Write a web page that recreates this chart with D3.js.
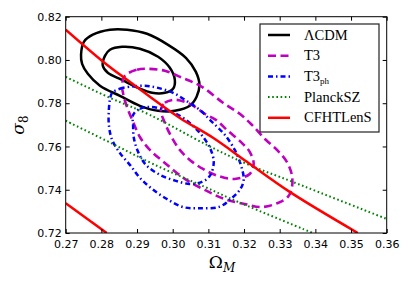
<!DOCTYPE html>
<html lang="en">
<head>
<meta charset="UTF-8">
<script src="https://cdn.jsdelivr.net/npm/d3@7"></script>
<style>
    body { margin: 0; background: white; }
    svg { display: block; }
    .tick text { font-family: "DejaVu Sans", sans-serif; font-size: 11px; }
</style>
</head>
<body>
<script>
    // contours, [Omega_M, sigma_8]
    const lcdm_outer = [[0.2743,0.8024],[0.2751,0.8084],[0.2776,0.8117],[0.2824,0.8140],[0.2872,0.8140],[0.2928,0.8121],[0.2987,0.8070],[0.3037,0.8010],[0.3065,0.7945],[0.3075,0.7885],[0.3067,0.7830],[0.3048,0.7788],[0.3006,0.7765],[0.2959,0.7765],[0.2908,0.7788],[0.2852,0.7834],[0.2796,0.7881],[0.2762,0.7936],[0.2746,0.7982]];
    const lcdm_inner = [[0.2804,0.7973],[0.2810,0.8019],[0.2824,0.8047],[0.2858,0.8061],[0.2908,0.8052],[0.2959,0.8015],[0.2992,0.7964],[0.3006,0.7908],[0.3001,0.7867],[0.2978,0.7848],[0.2942,0.7848],[0.2903,0.7871],[0.2858,0.7908],[0.2818,0.7941]];
    const t3_outer = [[0.2866,0.7927],[0.2900,0.7955],[0.2931,0.7959],[0.2978,0.7950],[0.3026,0.7918],[0.3082,0.7876],[0.3141,0.7802],[0.3188,0.7751],[0.3222,0.7700],[0.3261,0.7631],[0.3295,0.7580],[0.3320,0.7529],[0.3334,0.7469],[0.3334,0.7408],[0.3323,0.7367],[0.3295,0.7339],[0.3250,0.7320],[0.3202,0.7334],[0.3146,0.7357],[0.3090,0.7399],[0.3034,0.7450],[0.2978,0.7524],[0.2936,0.7584],[0.2908,0.7644],[0.2889,0.7714],[0.2875,0.7769],[0.2863,0.7830],[0.2858,0.7885]];
    const t3_inner = [[0.2967,0.7769],[0.2978,0.7802],[0.3006,0.7816],[0.3048,0.7797],[0.3090,0.7751],[0.3121,0.7723],[0.3155,0.7672],[0.3191,0.7621],[0.3216,0.7575],[0.3227,0.7519],[0.3216,0.7473],[0.3174,0.7450],[0.3127,0.7464],[0.3085,0.7496],[0.3048,0.7538],[0.3020,0.7584],[0.2998,0.7640],[0.2978,0.7709]];
    const t3ph_outer = [[0.2830,0.7848],[0.2852,0.7867],[0.2880,0.7876],[0.2922,0.7881],[0.2959,0.7871],[0.3001,0.7848],[0.3043,0.7806],[0.3076,0.7769],[0.3110,0.7714],[0.3146,0.7654],[0.3174,0.7584],[0.3191,0.7515],[0.3199,0.7445],[0.3188,0.7399],[0.3166,0.7362],[0.3132,0.7322],[0.3076,0.7314],[0.3029,0.7320],[0.2984,0.7357],[0.2942,0.7404],[0.2908,0.7455],[0.2880,0.7515],[0.2852,0.7570],[0.2830,0.7631],[0.2821,0.7700],[0.2821,0.7769],[0.2824,0.7816]];
    const t3ph_inner = [[0.2889,0.7746],[0.2908,0.7774],[0.2936,0.7783],[0.2978,0.7769],[0.3020,0.7742],[0.3057,0.7695],[0.3087,0.7640],[0.3107,0.7584],[0.3115,0.7524],[0.3104,0.7464],[0.3082,0.7436],[0.3048,0.7427],[0.3009,0.7441],[0.2964,0.7469],[0.2925,0.7515],[0.2903,0.7575],[0.2891,0.7640],[0.2889,0.7700]];
    const planck_upper = [[0.2700,0.7922],[0.2824,0.7825],[0.2936,0.7746],[0.3096,0.7607],[0.3208,0.7519],[0.3337,0.7436],[0.3600,0.7265]];
    const planck_lower = [[0.2700,0.7719],[0.2832,0.7612],[0.2945,0.7519],[0.3090,0.7413],[0.3183,0.7344],[0.3393,0.7200]];
    const cfht_upper = [[0.2700,0.8140],[0.2805,0.7992],[0.2872,0.7908],[0.2936,0.7830],[0.3020,0.7732],[0.3113,0.7640],[0.3208,0.7529],[0.3328,0.7390],[0.3519,0.7200]];
    const cfht_lower = [[0.2700,0.7338],[0.2815,0.7200]];

    const x_ticks = [0.27, 0.28, 0.29, 0.30, 0.31, 0.32, 0.33, 0.34, 0.35, 0.36];
    const y_ticks = [0.72, 0.74, 0.76, 0.78, 0.80, 0.82];
    const legend_labels = ["ΛCDM", "T3", "T3", "PlanckSZ", "CFHTLenS"];

    const W = 411, H = 288;
    const plot = {left: 65.7, right: 386.7, top: 16.7, bottom: 233};

    const x = d3.scaleLinear().domain([0.27, 0.36]).range([plot.left, plot.right]);
    const y = d3.scaleLinear().domain([0.72, 0.82]).range([plot.bottom, plot.top]);

    const svg = d3.select("body").append("svg")
        .attr("width", W)
        .attr("height", H);

    svg.append("defs").append("clipPath").attr("id", "clip")
        .append("rect")
        .attr("x", plot.left).attr("y", plot.top)
        .attr("width", plot.right - plot.left)
        .attr("height", plot.bottom - plot.top);

    // closed contours and open bands
    const loop = d3.line().x(d => x(d[0])).y(d => y(d[1])).curve(d3.curveCatmullRomClosed.alpha(0.5));
    const open = d3.line().x(d => x(d[0])).y(d => y(d[1])).curve(d3.curveCatmullRom.alpha(0.5));

    const styles = [
        {stroke: "#000000", dash: null, width: 2.5},
        {stroke: "#bf00bf", dash: "8,4.5", width: 2.6},
        {stroke: "#0000ff", dash: "5,3,1.5,3", width: 2.5},
        {stroke: "#008000", dash: "1.6,2.6", width: 2},
        {stroke: "#ff0000", dash: null, width: 2.5}
    ];

    const g = svg.append("g").attr("clip-path", "url(#clip)");
    const series = [
        {data: [lcdm_outer, lcdm_inner], gen: loop, s: styles[0]},
        {data: [t3_outer, t3_inner], gen: loop, s: styles[1]},
        {data: [t3ph_outer, t3ph_inner], gen: loop, s: styles[2]},
        {data: [planck_upper, planck_lower], gen: open, s: styles[3]},
        {data: [cfht_upper, cfht_lower], gen: open, s: styles[4]}
    ];
    series.forEach(sr => {
        g.selectAll(null)
            .data(sr.data)
            .enter()
            .append("path")
            .attr("d", d => sr.gen(d))
            .attr("fill", "none")
            .attr("stroke", sr.s.stroke)
            .attr("stroke-width", sr.s.width)
            .attr("stroke-dasharray", sr.s.dash)
            .attr("stroke-linejoin", "round");
    });

    // axes, ticks inward on all four sides
    const tl = 4;
    svg.append("g")
        .attr("transform", `translate(0,${plot.bottom})`)
        .call(d3.axisBottom(x).tickValues(x_ticks).tickSizeInner(-tl).tickSizeOuter(0).tickPadding(7).tickFormat(d3.format(".2f")));
    svg.append("g")
        .attr("transform", `translate(0,${plot.top})`)
        .call(d3.axisTop(x).tickValues(x_ticks).tickSizeInner(-tl).tickSizeOuter(0).tickFormat(""));
    svg.append("g")
        .attr("transform", `translate(${plot.left},0)`)
        .call(d3.axisLeft(y).tickValues(y_ticks).tickSizeInner(-tl).tickSizeOuter(0).tickPadding(4).tickFormat(d3.format(".2f")));
    svg.append("g")
        .attr("transform", `translate(${plot.right},0)`)
        .call(d3.axisRight(y).tickValues(y_ticks).tickSizeInner(-tl).tickSizeOuter(0).tickFormat(""));
    svg.selectAll(".domain").remove();
    svg.selectAll(".tick line").attr("stroke", "#000");
    svg.selectAll(".tick text").attr("fill", "#000");

    svg.append("rect")
        .attr("x", plot.left).attr("y", plot.top)
        .attr("width", plot.right - plot.left)
        .attr("height", plot.bottom - plot.top)
        .attr("fill", "none")
        .attr("stroke", "#000")
        .attr("stroke-width", 1);

    // axis labels
    const xl = svg.append("text")
        .attr("x", 222).attr("y", 268)
        .attr("text-anchor", "middle")
        .attr("font-family", "'DejaVu Serif', serif")
        .attr("font-size", 17);
    xl.append("tspan").text("Ω");
    xl.append("tspan").attr("dy", 4).attr("font-size", 12).attr("font-style", "italic").text("M");

    const yl = svg.append("text")
        .attr("transform", "translate(24,125) rotate(-90)")
        .attr("text-anchor", "middle")
        .attr("font-family", "'DejaVu Serif', serif")
        .attr("font-size", 17);
    yl.append("tspan").attr("font-style", "italic").text("σ");
    yl.append("tspan").attr("dy", 4).attr("font-size", 12).text("8");

    // legend
    const leg = svg.append("g");
    leg.append("rect")
        .attr("x", 260).attr("y", 24)
        .attr("width", 119).attr("height", 108)
        .attr("fill", "white")
        .attr("stroke", "#222")
        .attr("stroke-width", 1.2);
    legend_labels.forEach((lab, i) => {
        const ly = 35 + i * 20.7;
        const s = styles[i];
        leg.append("line")
            .attr("x1", 268).attr("x2", 290)
            .attr("y1", ly).attr("y2", ly)
            .attr("stroke", s.stroke)
            .attr("stroke-width", s.width)
            .attr("stroke-dasharray", s.dash);
        const t = leg.append("text")
            .attr("x", 304).attr("y", ly + 4.5)
            .attr("font-family", "'Liberation Serif', serif")
            .attr("font-size", 14.5)
            .text(lab);
        if (i === 2) {
            t.append("tspan").attr("dy", 3).attr("font-size", 9).text("ph");
        }
    });
</script>
</body>
</html>
